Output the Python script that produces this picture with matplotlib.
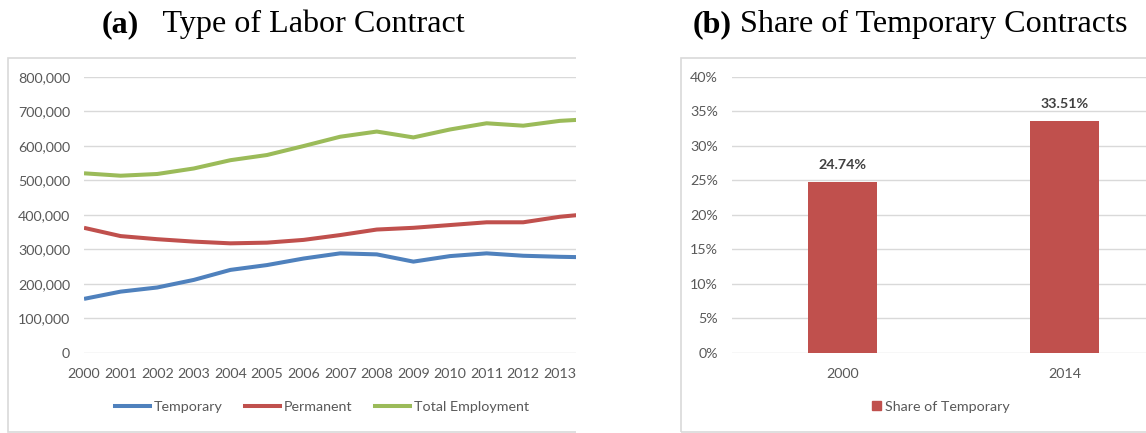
import matplotlib
matplotlib.use("Agg")
import matplotlib.pyplot as plt
from matplotlib.patches import Rectangle
from matplotlib.lines import Line2D
from matplotlib.ticker import FuncFormatter, MultipleLocator

# ---- data ----
years = list(range(2000, 2015))
temporary = [156000, 177000, 189000, 211000, 240000, 254000, 273000, 288000,
             285000, 264000, 280000, 288000, 281000, 278000, 276000]
permanent = [362000, 338000, 329000, 322000, 317000, 319000, 327000, 341000,
             357000, 362000, 370000, 378000, 378000, 394000, 404000]
total_emp = [520000, 513000, 518000, 534000, 558000, 573000, 599000, 626000,
             641000, 624000, 647000, 665000, 658000, 672000, 678000]
series_names = ["Temporary", "Permanent", "Total Employment"]

share_cats = ["2000", "2014"]
share_vals = [0.2474, 0.3351]
share_name = "Share of Temporary"

title_a = ("(a)", "   Type of Labor Contract")
title_b = ("(b)", " Share of Temporary Contracts")

# ---- style ----
W, H = 1146, 433
BLUE, RED, GREEN = "#4F81BD", "#C0504D", "#9BBB59"
GRID = "#D9D9D9"
TICK = "#595959"
SANS = ["Lato", "DejaVu Sans"]
SERIF = ["Liberation Serif", "DejaVu Serif"]
FS = 10.3

fig = plt.figure(figsize=(W / 100, H / 100), dpi=100)


def fx(px):
    return px / W


def fy(py):
    return 1 - py / H


def style_axes(ax):
    for s in ax.spines.values():
        s.set_visible(False)
    ax.grid(axis="y", color=GRID, linewidth=1.0)
    ax.set_axisbelow(True)
    ax.tick_params(length=0, labelsize=FS, labelcolor=TICK, pad=10)
    for lab in ax.get_xticklabels() + ax.get_yticklabels():
        lab.set_family(SANS)


# ---- left panel ----
x0, x1 = 84, 84 + 14 * 36.6
ytop, ybot = 76.7, 352.7
axL = fig.add_axes([fx(x0), fy(ybot), fx(x1) - fx(x0), (ybot - ytop) / H])
axL.plot(years, temporary, color=BLUE, lw=2.9, solid_capstyle="butt")
axL.plot(years, permanent, color=RED, lw=2.9, solid_capstyle="butt")
axL.plot(years, total_emp, color=GREEN, lw=2.9, solid_capstyle="butt")
axL.set_xlim(2000, 2014)
axL.set_ylim(0, 800000)
axL.yaxis.set_major_locator(MultipleLocator(100000))
axL.yaxis.set_major_formatter(FuncFormatter(lambda v, p: f"{int(v):,}"))
axL.set_xticks(years[:-1])
axL.set_xticklabels([str(y) for y in years[:-1]])
style_axes(axL)
axL.tick_params(axis="x", pad=11)

handles = [Line2D([], [], color=c, lw=2.9) for c in (BLUE, RED, GREEN)]
fig.legend(handles, series_names, loc="center", bbox_to_anchor=(fx(322), fy(407)),
           ncol=3, frameon=False, handlelength=2.45, handletextpad=0.3,
           columnspacing=1.55, prop={"family": SANS, "size": FS},
           labelcolor=TICK)

# ---- right panel ----
rx0 = 731.7
axR = fig.add_axes([fx(rx0), fy(ybot), 444 / W, (ybot - ytop) / H])
bars = axR.bar(range(len(share_cats)), share_vals, width=0.31, color=RED,
               label=share_name)
axR.set_xlim(-0.5, 1.5)
axR.set_ylim(0, 0.40)
axR.yaxis.set_major_locator(MultipleLocator(0.05))
axR.yaxis.set_major_formatter(FuncFormatter(lambda v, p: f"{v * 100:.0f}%"))
axR.set_xticks(range(len(share_cats)))
axR.set_xticklabels(share_cats)
style_axes(axR)
axR.tick_params(axis="x", pad=11)
for b, v in zip(bars, share_vals):
    axR.annotate(f"{v * 100:.2f}%", (b.get_x() + b.get_width() / 2, v),
                 xytext=(0, 11), textcoords="offset pixels", ha="center",
                 va="bottom", fontsize=FS, fontweight="bold", color="#404040",
                 family=SANS)

fig.legend([Rectangle((0, 0), 1, 1, color=RED)], [share_name], loc="center",
           bbox_to_anchor=(fx(941), fy(407)), frameon=False,
           handlelength=0.6, handleheight=0.6, handletextpad=0.3,
           prop={"family": SANS, "size": FS}, labelcolor=TICK)

# ---- frames and crop mask ----
fig.patches.append(Rectangle((fx(7.5), fy(431.5)), fx(640) - fx(7.5),
                             (431.5 - 57.5) / H, transform=fig.transFigure,
                             fill=False, edgecolor=GRID, lw=1.2, zorder=3))
fig.patches.append(Rectangle((fx(575.5), 0), fx(679.5) - fx(575.5), 1,
                             transform=fig.transFigure, facecolor="white",
                             edgecolor="none", zorder=5))
fig.patches.append(Rectangle((fx(680.5), fy(431.5)), fx(1300) - fx(680.5),
                             (431.5 - 57.5) / H, transform=fig.transFigure,
                             fill=False, edgecolor=GRID, lw=1.2, zorder=6))

# ---- titles ----
renderer = fig.canvas.get_renderer()


def title(parts, xleft, ybase, size=23.1):
    t1 = fig.text(fx(xleft), fy(ybase), parts[0], family=SERIF, size=size,
                  weight="bold", ha="left", va="baseline")
    bb = t1.get_window_extent(renderer)
    fig.text(bb.x1 / W, fy(ybase), parts[1], family=SERIF, size=size,
             ha="left", va="baseline")


title(title_a, 101.7, 32)
title(title_b, 693, 32)

fig.savefig("out.png", dpi=100)
